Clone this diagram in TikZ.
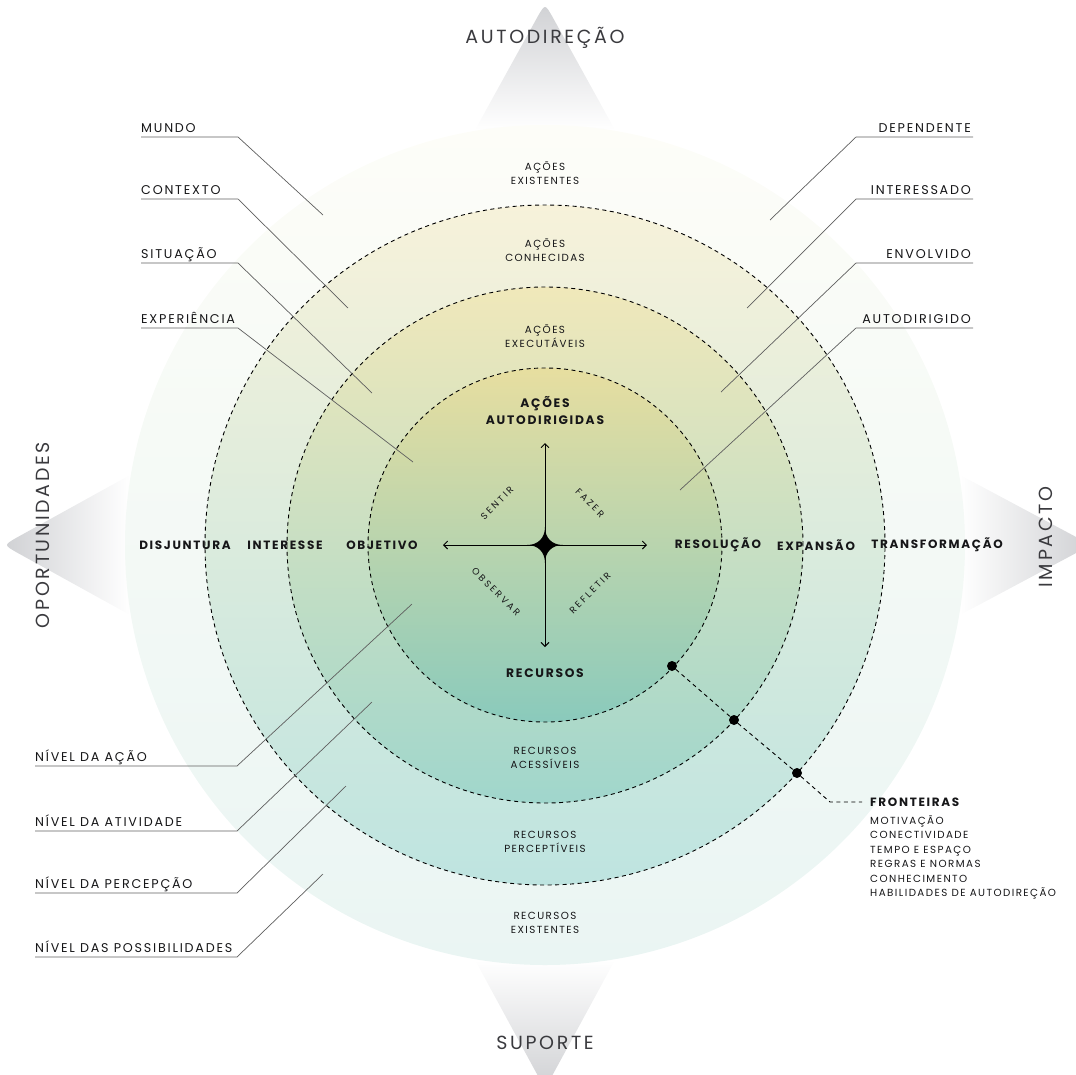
\documentclass[tikz,border=0pt]{standalone}
\usepackage{fontspec}
\setmainfont{Poppins}
\newfontfamily\trackfont[LetterSpace=14]{Poppins}
\newfontfamily\widefont[LetterSpace=26]{Poppins}
\usetikzlibrary{positioning,arrows.meta,calc}

\definecolor{ink}{RGB}{22,22,24}
\definecolor{sidegray}{RGB}{58,58,62}
\definecolor{leadgray}{RGB}{95,95,95}
\definecolor{trigray}{RGB}{208,209,212}
\definecolor{trimid}{RGB}{236,236,238}
% disk colours, outer to inner
\definecolor{mundoT}{RGB}{253,253,248}
\definecolor{mundoM}{RGB}{245,247,242}
\definecolor{mundoB}{RGB}{234,245,243}
\definecolor{contT}{RGB}{247,242,218}
\definecolor{contM}{RGB}{221,231,213}
\definecolor{contB}{RGB}{190,228,224}
\definecolor{situT}{RGB}{240,232,186}
\definecolor{situM}{RGB}{202,220,187}
\definecolor{situB}{RGB}{160,214,204}
\definecolor{expT}{RGB}{231,222,160}
\definecolor{expM}{RGB}{186,212,168}
\definecolor{expB}{RGB}{138,202,188}

\begin{document}
\begin{tikzpicture}[x=1pt,y=-1pt,
  ringline/.style={draw=black,line width=0.9pt,dash pattern=on 4pt off 3.5pt},
  leaderline/.style={draw=leadgray,line width=0.7pt},
  sidelbl/.style={font=\trackfont\fontsize{19}{19}\selectfont,text=sidegray,inner sep=0pt},
  keylbl/.style={font=\trackfont\fontsize{12.7}{12.7}\selectfont,text=ink,inner sep=0pt},
  rowlbl/.style={font=\trackfont\bfseries\fontsize{12}{12}\selectfont,text=ink,inner sep=0pt},
  zonelbl/.style={font=\trackfont\fontsize{10.3}{14.5}\selectfont,text=ink,align=center,inner sep=0pt},
  corelbl/.style={font=\trackfont\bfseries\fontsize{12.3}{17}\selectfont,text=ink,align=center,inner sep=0pt},
  diaglbl/.style={font=\widefont\fontsize{9.3}{9.3}\selectfont,text=ink,inner sep=0pt},
  listlbl/.style={font=\trackfont\fontsize{10.3}{14.4}\selectfont,text=ink,align=left,inner sep=0pt},
  dotmark/.style={circle,fill=black,minimum size=10pt,inner sep=0pt},
  axisline/.style={draw=black,line width=0.9pt,{Straight Barb[length=4pt,width=8pt]}-{Straight Barb[length=4pt,width=8pt]}}
]
\useasboundingbox (0,0) rectangle (1076,1074);
\coordinate (o) at (545,545);

% direction wedges behind the disks
\shade[top color=trigray,middle color=trimid,bottom color=white] (475,130) -- (538,16) .. controls (545,4) .. (552,16) -- (615,130) -- cycle;
\shade[top color=white,middle color=trimid,bottom color=trigray] (475,960) -- (538,1076) .. controls (545,1088) .. (552,1076) -- (615,960) -- cycle;
\shade[left color=trigray,middle color=trimid,right color=white] (130,475) -- (16,538) .. controls (4,545) .. (16,552) -- (130,615) -- cycle;
\shade[left color=white,middle color=trimid,right color=trigray] (960,475) -- (1078,538) .. controls (1090,545) .. (1078,552) -- (960,615) -- cycle;

% disks
\shade[top color=mundoT,middle color=mundoM,bottom color=mundoB] (o) circle[radius=420pt];
\shade[top color=contT,middle color=contM,bottom color=contB] (o) circle[radius=340pt];
\shade[top color=situT,middle color=situM,bottom color=situB] (o) circle[radius=258pt];
\shade[top color=expT,middle color=expM,bottom color=expB] (o) circle[radius=177pt];
\foreach \r in {340,258,177} {
  \draw[ringline] (o) circle[radius=\r pt];
}

% side titles
\node[sidelbl] (autodirecao) at (545,38) {AUTODIREÇÃO};
\node[sidelbl] (suporte) at (545,1043) {SUPORTE};
\node[sidelbl,rotate=90] (oportunidades) at (43,535) {OPORTUNIDADES};
\node[sidelbl,rotate=90] (impacto) at (1046,537) {IMPACTO};

% zone labels
\node[zonelbl] (acoesExist) at (545,173) {AÇÕES\\EXISTENTES};
\node[zonelbl] (acoesConh) at (545,250) {AÇÕES\\CONHECIDAS};
\node[zonelbl] (acoesExec) at (545,336) {AÇÕES\\EXECUTÁVEIS};
\node[corelbl] (acoesAuto) at (545,411) {AÇÕES\\AUTODIRIGIDAS};
\node[corelbl] (recursos) at (545,673) {RECURSOS};
\node[zonelbl] (recAcess) at (545,758) {RECURSOS\\ACESSÍVEIS};
\node[zonelbl] (recPerc) at (545,842) {RECURSOS\\PERCEPTÍVEIS};
\node[zonelbl] (recExist) at (545,923) {RECURSOS\\EXISTENTES};

% row across the middle
\node[rowlbl] (disjuntura) at (185,545) {DISJUNTURA};
\node[rowlbl] (interesse) at (285,545) {INTERESSE};
\node[rowlbl] (objetivo) at (382,545) {OBJETIVO};
\node[rowlbl] (resolucao) at (718,545) {RESOLUÇÃO};
\node[rowlbl] (expansao) at (816,545) {EXPANSÃO};
\node[rowlbl] (transformacao) at (937,545) {TRANSFORMAÇÃO};

% cross and star
\coordinate (axN) at (545,443);
\coordinate (axS) at (545,647);
\coordinate (axW) at (443,545);
\coordinate (axE) at (647,545);
\draw[axisline] (axN) -- (axS);
\draw[axisline] (axW) -- (axE);
\fill (527,545) .. controls (538,545) and (545,538) .. (545,527)
  .. controls (545,538) and (552,545) .. (563,545)
  .. controls (552,545) and (545,552) .. (545,563)
  .. controls (545,552) and (538,545) .. cycle;
\node[diaglbl,rotate=45] (sentir) at (497,503) {SENTIR};
\node[diaglbl,rotate=-45] (fazer) at (590,503) {FAZER};
\node[diaglbl,rotate=-45] (observar) at (496,592) {OBSERVAR};
\node[diaglbl,rotate=45] (refletir) at (590,593) {REFLETIR};

% leaders, left top
\foreach \nm/\txt/\ly/\ex/\ey in {mundo/MUNDO/137/323/215,contexto/CONTEXTO/199/348/308,situacao/SITUAÇÃO/263/372/393,experiencia/EXPERIÊNCIA/328/413/462} {
  \node[keylbl,anchor=base west] (\nm) at (141,\ly-5) {\txt};
  \coordinate (\nm-k) at (238,\ly);
  \coordinate (\nm-e) at (\ex,\ey);
  \draw[leaderline] (\nm-k -| \nm.west) -- (\nm-k) -- (\nm-e);
}
% leaders, right top
\foreach \nm/\txt/\ly/\ex/\ey in {dependente/DEPENDENTE/137/770/220,interessado/INTERESSADO/199/747/308,envolvido/ENVOLVIDO/263/721/392,autodirigido/AUTODIRIGIDO/328/680/490} {
  \node[keylbl,anchor=base east] (\nm) at (971,\ly-5) {\txt};
  \coordinate (\nm-k) at (856,\ly);
  \coordinate (\nm-e) at (\ex,\ey);
  \draw[leaderline] (\nm-k -| 973,0) -- (\nm-k) -- (\nm-e);
}
% leaders, left bottom
\foreach \nm/\txt/\ly/\ex/\ey in {acao/NÍVEL DA AÇÃO/766/412/604,atividade/NÍVEL DA ATIVIDADE/831/372/702,percepcao/NÍVEL DA PERCEPÇÃO/893/346/786,possib/NÍVEL DAS POSSIBILIDADES/957/323/874} {
  \node[keylbl,anchor=base west] (\nm) at (35,\ly-5) {\txt};
  \coordinate (\nm-k) at (237,\ly);
  \coordinate (\nm-e) at (\ex,\ey);
  \draw[leaderline] (\nm-k -| \nm.west) -- (\nm-k) -- (\nm-e);
}

% boundaries
\node[dotmark] (d1) at (672,666) {};
\node[dotmark] (d2) at (734,720) {};
\node[dotmark] (d3) at (797,773) {};
\coordinate (bend) at (830,802);
\node[rowlbl,anchor=west,inner sep=0pt] (fronteiras) at (870,802) {FRONTEIRAS};
\draw[ringline] (d1) -- (d2) -- (d3) -- (bend) -- ([xshift=-8pt]fronteiras.west);
\node[listlbl,below right=9pt and 0pt of fronteiras.south west] (limites)
  {MOTIVAÇÃO\\CONECTIVIDADE\\TEMPO E ESPAÇO\\REGRAS E NORMAS\\CONHECIMENTO\\HABILIDADES DE AUTODIREÇÃO};
\end{tikzpicture}
\end{document}
